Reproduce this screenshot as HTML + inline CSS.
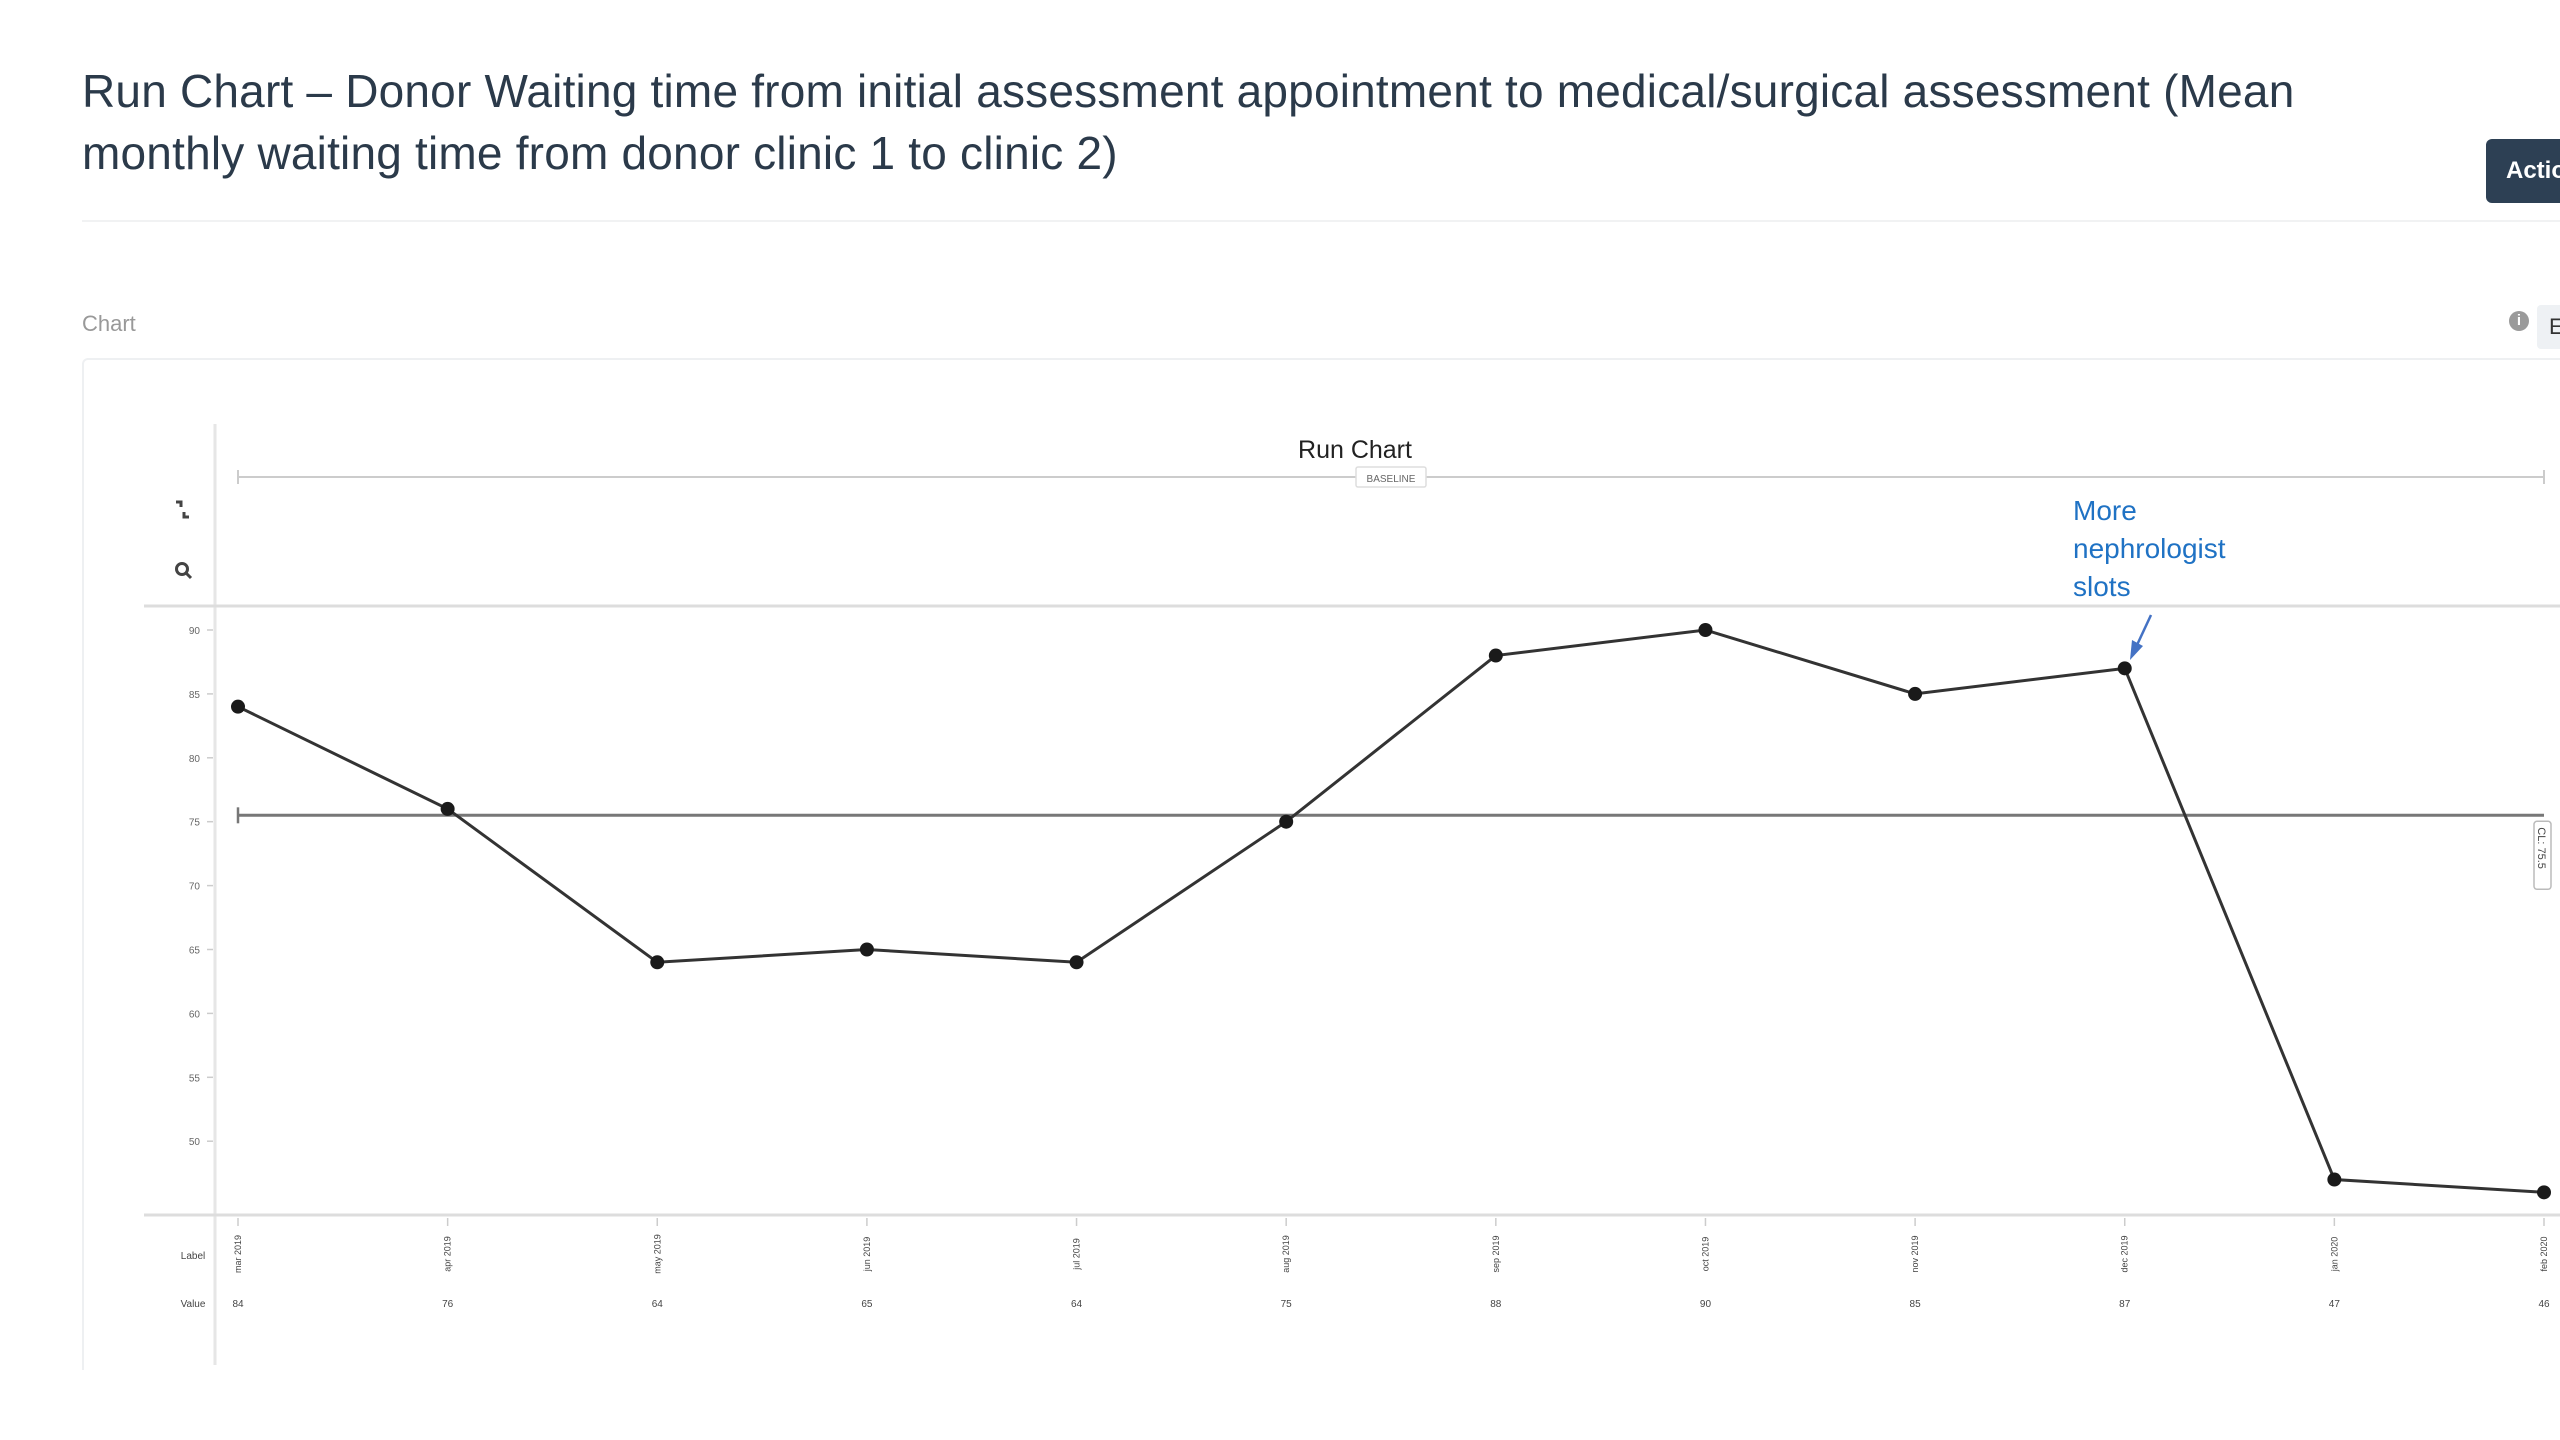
<!DOCTYPE html>
<html><head><meta charset="utf-8">
<style>
html,body{margin:0;padding:0;background:#fff;width:2560px;height:1440px;overflow:hidden;font-family:"Liberation Sans",sans-serif;}
.title{position:absolute;left:82px;top:60px;font-size:46px;line-height:62px;color:#2b3a4a;width:2330px;letter-spacing:0.2px;}
.action{position:absolute;left:2486px;top:139px;width:90px;height:64px;background:#2d4054;border-radius:6px;color:#fff;font-size:24px;line-height:64px;padding-left:20px;box-sizing:border-box;font-weight:bold;}
.sep{position:absolute;left:82px;top:220px;width:2478px;height:2px;background:#f1f2f3;}
.chartlbl{position:absolute;left:82px;top:311px;font-size:22px;color:#999;}
.info{position:absolute;left:2509px;top:311px;width:20px;height:20px;border-radius:50%;background:#9a9a9a;color:#fff;font-size:15px;line-height:20px;text-align:center;font-weight:bold;}
.ebtn{position:absolute;left:2537px;top:305px;width:40px;height:44px;background:#eef1f4;border-radius:4px;font-size:22px;line-height:44px;padding-left:12px;box-sizing:border-box;color:#333;}
.card{position:absolute;left:82px;top:358px;width:2500px;height:1010px;border:2px solid #eef0f2;border-bottom:none;border-radius:6px 0 0 0;}
svg{position:absolute;left:0;top:0;}
</style></head><body>
<div class="title">Run Chart – Donor Waiting time from initial assessment appointment to medical/surgical assessment (Mean monthly waiting time from donor clinic 1 to clinic 2)</div>
<div class="action">Actions</div>
<div class="sep"></div>
<div class="chartlbl">Chart</div>
<div class="info">i</div>
<div class="ebtn">E</div>
<div class="card"></div>
<svg id="chart" width="2560" height="1440">
  <text x="1355" y="458" text-anchor="middle" font-size="25" fill="#222">Run Chart</text>
  <line x1="215" y1="424" x2="215" y2="1365" stroke="#e6e6e6" stroke-width="3"/>
  <line x1="144" y1="606" x2="2560" y2="606" stroke="#ddd" stroke-width="3"/>
  <line x1="144" y1="1215" x2="2560" y2="1215" stroke="#ddd" stroke-width="3"/>
  <g><path d="M176 502 l5 0 l0 5 M189 517 l-5 0 l0 -5" stroke="#444" stroke-width="3" fill="none"/></g>
  <g><circle cx="182" cy="569" r="5.5" stroke="#444" stroke-width="3" fill="none"/><line x1="186" y1="573" x2="191" y2="578" stroke="#444" stroke-width="3"/></g>
  <text x="2073" y="520" font-size="28" fill="#1f72c4"><tspan x="2073" dy="0">More</tspan><tspan x="2073" dy="38">nephrologist</tspan><tspan x="2073" dy="38">slots</tspan></text>
  <line x1="2151" y1="615" x2="2137" y2="645" stroke="#4472c4" stroke-width="2.5"/>
  <path d="M2130 660 L2132 640 L2143 646 Z" fill="#4472c4"/>
  <g id="grid"></g>
  <g id="marks"></g>
</svg>
<script>
const categories=["mar 2019","apr 2019","may 2019","jun 2019","jul 2019","aug 2019","sep 2019","oct 2019","nov 2019","dec 2019","jan 2020","feb 2020"];
const values=[84,76,64,65,64,75,88,90,85,87,47,46];
const yTicks=[90,85,80,75,70,65,60,55,50];
const centerLine=[75.5];
const baselineLabel=["BASELINE"];

const NS="http://www.w3.org/2000/svg";
const svg=document.getElementById('chart');
const g=document.getElementById('marks');
const grid=document.getElementById('grid');
const X0=238,X1=2544,Y90=630,PER=12.78;
function x(i){return X0+i*(X1-X0)/(categories.length-1);}
function y(v){return Y90+(90-v)*PER;}
function mk(tag,attrs,parent){const e=document.createElementNS(NS,tag);for(const k in attrs)e.setAttribute(k,attrs[k]);(parent||g).appendChild(e);return e;}

let bl=mk('line',{x1:X0,y1:477,x2:X1,y2:477,stroke:'#ccc','stroke-width':2},grid);


mk('line',{x1:X0,y1:470,x2:X0,y2:484,stroke:'#ccc','stroke-width':2},grid);
mk('line',{x1:X1,y1:470,x2:X1,y2:484,stroke:'#ccc','stroke-width':2},grid);
let bt=mk('rect',{x:1356,y:467,width:70,height:20,fill:'#fff',stroke:'#ddd','stroke-width':1.5,rx:2},grid);


let btt=mk('text',{x:1391,y:482,'text-anchor':'middle','font-size':10,fill:'#666'},grid);
btt.textContent=baselineLabel[0];



yTicks.forEach(t=>{
  let tx=mk('text',{x:200,y:y(t)+4,'text-anchor':'end','font-size':10,fill:'#666'},grid);
  tx.textContent=t;
  
  
  mk('line',{x1:207,y1:y(t),x2:213,y2:y(t),stroke:'#ccc','stroke-width':1.5},grid);
});

const cy=y(centerLine[0]);
let cl=mk('line',{x1:X0,y1:cy,x2:X1,y2:cy,stroke:'#777','stroke-width':3},grid);


mk('line',{x1:X0,y1:cy-8,x2:X0,y2:cy+8,stroke:'#777','stroke-width':2.5},grid);
let cb=mk('rect',{x:2534,y:cy+6,width:17,height:68,fill:'#fff',stroke:'#bbb','stroke-width':1.5,rx:3},grid);


let ct=mk('text',{x:0,y:0,'font-size':11,fill:'#444',transform:`translate(2538,${cy+12}) rotate(90)`},grid);
ct.textContent='CL: '+centerLine[0];



let rl=mk('text',{x:193,y:1259,'text-anchor':'middle','font-size':10,fill:'#444'},grid);
rl.textContent='Label';


let rv=mk('text',{x:193,y:1307,'text-anchor':'middle','font-size':10,fill:'#444'},grid);
rv.textContent='Value';



let pts=values.map((v,i)=>x(i)+','+y(v)).join(' ');
let pl=mk('polyline',{points:pts,fill:'none',stroke:'#333','stroke-width':3});



values.forEach((v,i)=>{
  let c=mk('circle',{cx:x(i),cy:y(v),r:7,fill:'#1a1a1a'});
  
  
  mk('line',{x1:x(i),y1:1218,x2:x(i),y2:1226,stroke:'#ccc','stroke-width':1.5},grid);
  let lt=mk('text',{x:0,y:0,'font-size':9,fill:'#444','text-anchor':'middle',transform:`translate(${x(i)+3},1254) rotate(-90)`},grid);
  lt.textContent=categories[i];
  
  
  let vt=mk('text',{x:x(i),y:1307,'font-size':10,fill:'#444','text-anchor':'middle'},grid);
  vt.textContent=v;
  
  
});
</script>
</body></html>
